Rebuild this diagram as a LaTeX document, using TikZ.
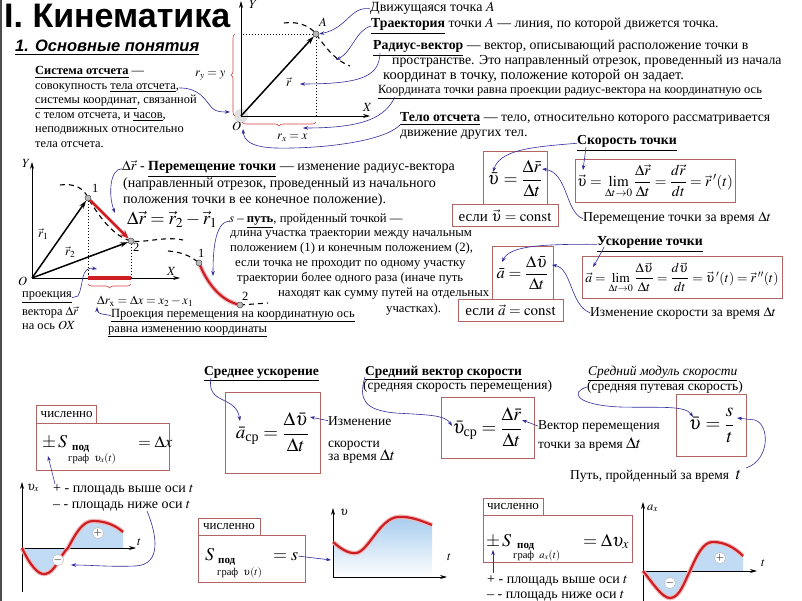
\documentclass[tikz,border=0pt]{standalone}
\usepackage{amsmath}
\usepackage{mathptmx}
\usepackage{fontspec}
\setmainfont{Liberation Serif}
\newfontfamily\hsans{Liberation Sans}
\usetikzlibrary{arrows.meta,decorations.pathreplacing}
\definecolor{boxc}{RGB}{176,100,100}
\definecolor{arrc}{RGB}{50,45,155}
\definecolor{redc}{RGB}{205,30,35}
\definecolor{fillc}{RGB}{150,195,235}
\newcommand{\fsS}{\fontsize{12.4}{14}\selectfont}
\newcommand{\fsM}{\fontsize{13.5}{15}\selectfont}
\newcommand{\fsT}{\fontsize{13.8}{15}\selectfont}
\newcommand{\fsK}{\fontsize{14}{16}\selectfont}
\newcommand{\fsN}{\fontsize{12.7}{14}\selectfont}
\newcommand{\fsP}{\fontsize{12.5}{14}\selectfont}
\newcommand{\fsF}{\fontsize{18}{20}\selectfont}
\begin{document}
\begin{tikzpicture}[x=1pt,y=-1pt,
  txs/.style={inner sep=0pt, anchor=base west, font=\fsS},
  txm/.style={inner sep=0pt, anchor=base west, font=\fsM},
  txt/.style={inner sep=0pt, anchor=base west, font=\fsT},
  txk/.style={inner sep=0pt, anchor=base west, font=\fsK},
  txn/.style={inner sep=0pt, anchor=base west, font=\fsN},
  txp/.style={inner sep=0pt, anchor=base west, font=\fsP},
  bx/.style={draw=boxc, line width=1pt, inner sep=0pt},
  arr/.style={draw=arrc, line width=0.6pt, -{Stealth[length=5pt,width=3.5pt]}},
  axl/.style={draw=black, line width=0.7pt, -{Stealth[length=7pt,width=4pt]}},
  rvec/.style={draw=black, line width=1.5pt, -{Stealth[length=8pt,width=5pt]}},
  traj/.style={draw=black, line width=1.1pt, dash pattern=on 5pt off 4pt},
  dotl/.style={draw=black, line width=0.5pt, dash pattern=on 1.5pt off 1.5pt},
  ptc/.style={circle, fill=gray!55, draw=black!70, line width=0.5pt, inner sep=0pt, minimum size=6pt},
  brc/.style={draw=redc!85, line width=0.6pt, decorate, decoration={brace, amplitude=4pt}},
  rcur/.style={draw=redc, line width=2.2pt},
  glow/.style={draw=redc!30, line width=4.5pt},
  sgn/.style={circle, fill=white, draw=gray!50, line width=0.5pt, inner sep=0pt, minimum size=11pt, font=\fontsize{11}{11}\selectfont\bfseries},
  tabbox/.style={draw=boxc, line width=1pt, inner sep=0pt, font=\fontsize{13}{14}\selectfont},
  mlab/.style={inner sep=0pt, anchor=base west, font=\fontsize{12.5}{14}\selectfont},
  big/.style={inner sep=0pt, anchor=base west, font=\fontsize{18}{18}\selectfont},
  pod/.style={inner sep=0pt, anchor=base west, font=\fontsize{11}{11}\selectfont\bfseries},
  graf/.style={inner sep=0pt, anchor=base west, font=\fontsize{10.5}{11}\selectfont},
]
\useasboundingbox (0,0) rectangle (802,601);
\fill[white] (0,0) rectangle (802,601);
\draw[black!70, line width=1.5pt] (0.75,0) -- (0.75,601);

% ---------- titles
\node[inner sep=0pt, anchor=base west, font=\hsans\bfseries\fontsize{34}{34}\selectfont] (title) at (4,28) {I. Кинематика};
\node[inner sep=0pt, anchor=base west, font=\hsans\bfseries\itshape\fontsize{16.5}{17}\selectfont] (sub) at (15,52) {\underline{1. Основные понятия}};

% ---------- reference frame text
\node[txs] (so1) at (35,75) {\underline{\textbf{Система отсчета}} —};
\node[txs] (so2) at (35,89.5) {совокупность \underline{тела отсчета},};
\node[txs] (so3) at (35,104) {\underline{системы координат}, связанной};
\node[txs] (so4) at (35,118.5) {с телом отсчета, и \underline{часов},};
\node[txs] (so5) at (35,133) {неподвижных относительно};
\node[txs] (so6) at (35,147.5) {тела отсчета.};

% ---------- top axes
\coordinate (O1) at (241,116);
\fill[gray!25] (O1) circle (7);
\draw[axl] (O1) -- (241,1);
\draw[axl] (O1) -- (370,116);
\coordinate (Ac) at (316,34);
\draw[dotl] (Ac) -- (241,34);
\draw[dotl] (Ac) -- (316,116);
\draw[traj] (284,23) .. controls (298,21) and (310,26) .. (Ac) .. controls (324,45) and (334,60) .. (350,66);
\node[ptc] (A) at (Ac) {};
\draw[rvec] (O1) -- (A);
\node[mlab] (Ylab1) at (249,9) {$Y$};
\node[mlab] (Xlab1) at (363,112) {$X$};
\node[mlab] (Olab1) at (232,131) {$O$};
\node[mlab] (Alab) at (319,27) {$A$};
\node[mlab] (rlab) at (286,87) {$\vec r$};
\draw[brc] (235,116) -- (235,34);
\node[mlab] (rylab) at (195,77) {$r_y = y$};
\draw[brc] (316,122) -- (242,122);
\node[mlab] (rxlab) at (277,140) {$r_x = x$};

% ---------- top right text
\node[txk] (dv) at (370,12) {Движущаяся точка $A$};
\node[txt] (tr) at (371,28) {\underline{\textbf{Траектория}} точки $A$ — линия, по которой движется точка.};
\node[txt] (rv1) at (373,50) {\underline{\textbf{Радиус-вектор}} — вектор, описывающий расположение точки в};
\node[txt] (rv2) at (392,65) {пространстве. Это направленный отрезок, проведенный из начала};
\node[txt, font=\fontsize{14.5}{16}\selectfont] (rv3) at (383,80) {координат в точку, положение которой он задает.};
\node[txp] (kt) at (378,94) {\underline{Координата точки равна проекции радиус-вектора на координатную ось}};
\node[txt] (to1) at (400,122) {\underline{\textbf{Тело отсчета}} — тело, относительно которого рассматривается};
\node[txt] (to2) at (400,137) {движение других тел.};

\coordinate (trjpt) at (336,60);
\coordinate (rtip) at (300,84);
\coordinate (rxtip) at (303,128);
\coordinate (Otip) at (243,129);
\coordinate (Oleft) at (230,112);
\draw[arr] (dv.west) .. controls (350,6) and (348,28) .. (A.east);
\draw[arr] (tr.west) .. controls (356,30) and (352,52) .. (trjpt);
\draw[arr] (380,53) .. controls (379,75) and (365,84) .. (rtip);
\draw[arr] (395,97) .. controls (385,117) and (365,128) .. (rxtip);
\draw[arr] (401,124) .. controls (385,142) and (320,149) .. (275,148) .. controls (250,147) and (244,140) .. (Otip);
\draw[arr] (so2.east) .. controls (200,88) and (205,100) .. (212,108) .. controls (216,112) and (222,112) .. (Oleft);

% ---------- middle-left graph
\coordinate (O2) at (32,278);
\draw[axl] (O2) -- (32,162);
\draw[axl] (O2) -- (180,278);
\coordinate (P1c) at (88,198);
\coordinate (P2c) at (131,241);
\draw[dotl] (P1c) -- (88,278);
\draw[dotl] (P2c) -- (131,278);
\draw[traj] (60,185) .. controls (74,183) and (84,188) .. (P1c) .. controls (97,213) and (112,236) .. (P2c) .. controls (146,243) and (165,236) .. (183,240);
\draw[redc, line width=4pt] (88,278) -- (131,278);
\node[ptc] (P1) at (P1c) {};
\node[ptc] (P2) at (P2c) {};
\draw[rvec] (O2) -- (P1);
\draw[rvec] (O2) -- (P2);
\draw[draw=redc, line width=2.5pt, -{Stealth[length=9pt,width=7pt]}] (P1) -- (P2);
\draw[brc] (131,284) -- (88,284);
\node[mlab] (Ylab2) at (22,168) {$Y$};
\node[mlab] (Olab2) at (18,285) {$O$};
\node[mlab] (Xlab2) at (167,276) {$X$};
\node[mlab] (n1) at (92,193) {1};
\node[mlab] (n2) at (133,252) {2};
\node[mlab] (r1lab) at (38,238) {$\vec r_1$};
\node[mlab] (r2lab) at (65,256) {$\vec r_2$};

\draw[traj] (168,251) .. controls (180,252) and (190,255) .. (199,263);
\draw[traj] (240,305) -- (268,303);
\draw[glow] (199,263) .. controls (206,280) and (218,300) .. (240,305);
\draw[rcur] (199,263) .. controls (206,280) and (218,300) .. (240,305);
\node[ptc] (Q1) at (199,263) {};
\node[ptc] (Q2) at (240,305) {};
\node[mlab] (m1) at (198,258) {1};
\node[mlab] (m2) at (242,300) {2};

% ---------- middle text
\node[txk] (dr1) at (122,171) {$\Delta\vec r$ - \underline{\textbf{Перемещение точки}} — изменение радиус-вектора};
\node[txk] (dr2) at (123,188) {(направленный отрезок, проведенный из начального};
\node[txk] (dr3) at (123,204) {положения точки в ее конечное положение).};
\node[inner sep=0pt, anchor=base west, font=\fontsize{18.5}{19}\selectfont] (dr4) at (127,225) {$\Delta\vec r = \vec r_2 - \vec r_1$};
\node[txn] (s1) at (229,223) {$s$ – \underline{\textbf{путь}}, пройденный точкой —};
\node[txn] (s2) at (230,237) {длина участка траектории между начальным};
\node[txn] (s3) at (230,252) {положением (1) и конечным положением (2),};
\node[txn] (s4) at (235,267) {если точка не проходит по одному участку};
\node[txn] (s5) at (237,282) {траектории более одного раза (иначе путь};
\node[txn] (s6) at (278,297) {находят как сумму путей на отдельных};
\node[txn] (s7) at (386,312) {участках).};

\node[txs] (pr1) at (22,298) {\underline{проекция}};
\node[txs] (pr2) at (22,315) {вектора $\Delta\vec r$};
\node[txs] (pr3) at (22,329) {на ось $OX$};
\node[txp] (drx) at (97,305) {$\Delta r_{\mathrm x} = \Delta x = x_2 - x_1$};
\node[txp] (pp1) at (111,317) {\underline{Проекция перемещения на координатную ось}};
\node[txp] (pp2) at (108,332) {\underline{равна изменению координаты}};

\coordinate (drtip) at (115,213);
\coordinate (stip) at (213,276);
\coordinate (prtip) at (97,269);
\coordinate (drxtip) at (97,307);
\draw[arr] (dr1.west) .. controls (110,168) and (108,195) .. (drtip);
\draw[arr] (s1.west) .. controls (214,222) and (213,255) .. (stip);
\draw[arr] (pr1.east) -- (78,296) .. controls (84,285) and (80,266) .. (prtip);
\draw[arr] (pp1.west) -- (102,314) .. controls (98,313) and (97,311) .. (drxtip);

% ---------- right: velocity
\node[bx, minimum width=64pt, minimum height=53pt, font=\fsF] (bA) at (515,178.5) {$\bar\upsilon = \dfrac{\Delta\bar r}{\Delta t}$};
\node[bx, minimum width=106pt, minimum height=22pt, font=\fontsize{15}{15}\selectfont] (bA2) at (505,216) {если $\vec\upsilon = \mathrm{const}$};
\node[bx, minimum width=160pt, minimum height=43pt, font=\fontsize{15}{17}\selectfont] (bB) at (655,181.5) {$\vec\upsilon = \lim\limits_{\Delta t\to 0}\dfrac{\Delta\vec r}{\Delta t} = \dfrac{d\vec r}{dt} = \vec r\,'(t)$};
\node[txt] (sk) at (577,145) {\underline{\textbf{Скорость точки}}};
\node[txt] (pm) at (583,222) {Перемещение точки за время $\Delta t$};
\coordinate (tA1) at (493,172);
\coordinate (tA2) at (542,169);
\coordinate (tB1) at (583,170);
\draw[arr] (sk.west) .. controls (530,147) and (500,150) .. (tA1);
\draw[arr] (586,147) .. controls (585,155) and (584,162) .. (tB1);
\draw[arr] (pm.west) .. controls (565,212) and (568,172) .. (tA2);

% ---------- right: acceleration
\node[bx, minimum width=61pt, minimum height=52pt, font=\fontsize{16.5}{19}\selectfont] (bC) at (522.5,273) {$\bar a = \dfrac{\Delta\bar\upsilon}{\Delta t}$};
\node[bx, minimum width=105pt, minimum height=22pt, font=\fontsize{15}{15}\selectfont] (bC2) at (510.5,310) {если $\vec a = \mathrm{const}$};
\node[bx, minimum width=200pt, minimum height=41pt, font=\fontsize{13.5}{16}\selectfont] (bD) at (682,277.5) {$\vec a = \lim\limits_{\Delta t\to 0}\dfrac{\Delta\vec\upsilon}{\Delta t} = \dfrac{d\vec\upsilon}{dt} = \vec\upsilon\,'(t) = \vec r\,''(t)$};
\node[txt] (usk) at (597,246) {\underline{\textbf{Ускорение точки}}};
\node[txm] (iz) at (590,316) {Изменение скорости за время $\Delta t$};
\coordinate (tC1) at (502,262);
\coordinate (tC2) at (552,265);
\coordinate (tD1) at (593,267);
\draw[arr] (usk.west) .. controls (540,244) and (510,246) .. (tC1);
\draw[arr] (604,247) .. controls (600,255) and (596,262) .. (tD1);
\draw[arr] (iz.west) .. controls (570,305) and (572,268) .. (tC2);

% ---------- average acceleration
\node[txm] (sru) at (204,375) {\underline{\textbf{Среднее ускорение}}};
\node[bx, minimum width=95pt, minimum height=81pt, font=\fontsize{19}{21}\selectfont] (bE) at (272.5,432.5) {$\bar a_{\text{ср}} = \dfrac{\Delta\bar\upsilon}{\Delta t}$};
\node[txm] (izm1) at (328,425) {Изменение};
\node[txm] (izm2) at (328,447) {скорости};
\node[txm] (izm3) at (328,460) {за время {\fontsize{16}{16}\selectfont$\Delta t$}};
\coordinate (tE1) at (240,421);
\coordinate (tE2) at (310,417);
\draw[arr] (211,378) .. controls (206,405) and (236,395) .. (tE1);
\draw[arr] (izm1.west) -- (tE2);

% ---------- average velocity vector
\node[txm] (svs) at (365,375) {\underline{\textbf{Средний вектор скорости}}};
\node[txm] (svs2) at (363,389) {(средняя скорость перемещения)};
\node[bx, minimum width=93pt, minimum height=61pt, font=\fontsize{19}{21}\selectfont] (bF) at (487.5,427.5) {$\bar\upsilon_{\text{ср}} = \dfrac{\Delta\bar r}{\Delta t}$};
\node[txm] (vp1) at (538,429) {Вектор перемещения};
\node[txm] (vp2) at (538,448) {точки за время {\fontsize{16}{16}\selectfont$\Delta t$}};
\coordinate (tF1) at (452,426);
\coordinate (tF2) at (522,420);
\draw[arr] (365,377) .. controls (358,400) and (365,410) .. (395,413) .. controls (430,415) and (445,415) .. (tF1);
\draw[arr] (vp1.west) -- (tF2);

% ---------- average speed
\node[txm] (sms) at (588,375) {\underline{\textit{Средний модуль скорости}}};
\node[txm] (sms2) at (587,390) {(средняя путевая скорость)};
\node[bx, minimum width=70pt, minimum height=62pt, font=\fontsize{19}{21}\selectfont] (bG) at (711.7,425.8) {$\bar\upsilon = \dfrac{s}{t}$};
\node[txm] (pt1) at (570,479) {Путь, пройденный за время \ {\fontsize{17}{17}\selectfont$t$}};
\coordinate (tG1) at (693,417);
\coordinate (tG2) at (737,418);
\draw[arr] (587,387) .. controls (570,392) and (575,405) .. (620,407) .. controls (660,408) and (685,405) .. (tG1);
\draw[arr] (746,468) .. controls (770,460) and (770,425) .. (755,420) -- (tG2);

% ---------- box 1 (v_x graph)
\node[tabbox, minimum width=60pt, minimum height=18pt] (tab1) at (66.7,414) {численно};
\node[bx, minimum width=133pt, minimum height=47pt] (b1) at (103.3,446.5) {};
\node[big] (pm1) at (42,447) {$\pm\, S$};
\node[pod] (pod1) at (72,450) {под};
\node[graf] (gr1) at (68,461) {граф \ $\upsilon_x(t)$};
\node[big, font=\fontsize{16.5}{17}\selectfont] (eq1) at (138,447) {$=\Delta x$};
\node[txk] (pl1) at (53,492) {+ - площадь выше оси $t$};
\node[txk] (mi1) at (53,508) {– - площадь ниже оси $t$};
\draw[arr] (55,484) -- (48,456);

\fill[fillc!60] (22,548) .. controls (30,565) and (38,575) .. (45,574) .. controls (55,573) and (60,555) .. (68,548) -- cycle;
\fill[fillc!60] (68,548) .. controls (75,535) and (82,521) .. (93,521) .. controls (105,521) and (115,525) .. (123,532) -- (123,548) -- cycle;
\draw[axl] (22,592) -- (22,482);
\draw[axl] (22,548) -- (136,548);
\draw[glow] (22,548) .. controls (30,565) and (38,575) .. (45,574) .. controls (55,573) and (60,555) .. (68,548) .. controls (75,535) and (82,521) .. (93,521) .. controls (105,521) and (115,525) .. (123,532);
\draw[rcur] (22,548) .. controls (30,565) and (38,575) .. (45,574) .. controls (55,573) and (60,555) .. (68,548) .. controls (75,535) and (82,521) .. (93,521) .. controls (105,521) and (115,525) .. (123,532);
\node[sgn] (sg1) at (58,560) {$-$};
\node[sgn] (sg2) at (98,533) {$+$};
\node[mlab] (vxlab) at (27,490) {$\upsilon_x$};
\node[mlab] (t1lab) at (137,545) {$t$};
\coordinate (tm1) at (71,565);
\draw[arr] (147,511) .. controls (157,535) and (162,565) .. (135,566) .. controls (110,567) and (90,565) .. (tm1);

% ---------- box 2 (v graph)
\node[tabbox, minimum width=62pt, minimum height=17pt] (tab2) at (229,526.5) {численно};
\node[bx, minimum width=107pt, minimum height=47pt] (b2) at (251.5,558.5) {};
\node[big] (S2) at (205,560) {$S$};
\node[pod] (pod2) at (218,563) {под};
\node[graf] (gr2) at (217,575) {граф \ $\upsilon(t)$};
\node[big] (eq2) at (273,560) {$= s$};
\shade[top color=fillc!85, bottom color=white] (333,542) .. controls (340,548) and (348,554) .. (356,553) .. controls (368,552) and (380,518) .. (398,517) .. controls (410,516) and (422,521) .. (432,525) -- (432,577) -- (333,577) -- cycle;
\draw[axl] (333,577) -- (333,508);
\draw[axl] (333,577) -- (447,577);
\draw[glow] (333,542) .. controls (340,548) and (348,554) .. (356,553) .. controls (368,552) and (380,518) .. (398,517) .. controls (410,516) and (422,521) .. (432,525);
\draw[rcur] (333,542) .. controls (340,548) and (348,554) .. (356,553) .. controls (368,552) and (380,518) .. (398,517) .. controls (410,516) and (422,521) .. (432,525);
\node[mlab] (vlab) at (340,515) {$\upsilon$};
\node[mlab] (t2lab) at (447,560) {$t$};
\coordinate (tv2) at (331,560);
\draw[arr] (eq2.east) -- (tv2);

% ---------- box 3 (a_x graph)
\node[tabbox, minimum width=60pt, minimum height=17pt] (tab3) at (513,506.5) {численно};
\node[bx, minimum width=149pt, minimum height=47pt] (b3) at (557.5,538.5) {};
\node[big] (pm3) at (486,546) {$\pm\, S$};
\node[pod] (pod3) at (517,548) {под};
\node[graf] (gr3) at (513,558) {граф \ $a_x(t)$};
\node[big] (eq3) at (583,546) {$=\Delta\upsilon_x$};
\node[txk] (pl3) at (487,583) {+ - площадь выше оси $t$};
\node[txk] (mi3) at (487,598) {– - площадь ниже оси $t$};
\draw[arr] (493,573) -- (493,550);

\fill[fillc!60] (643,571) .. controls (652,582) and (662,598) .. (670,598) .. controls (680,598) and (685,580) .. (690,571) -- cycle;
\fill[fillc!60] (690,571) .. controls (697,555) and (703,542) .. (713,542) .. controls (725,542) and (735,548) .. (743,556) -- (743,571) -- cycle;
\draw[axl] (643,601) -- (643,502);
\draw[axl] (643,571) -- (757,571);
\draw[glow] (643,571) .. controls (652,582) and (662,598) .. (670,598) .. controls (680,598) and (685,580) .. (690,571) .. controls (697,555) and (703,542) .. (713,542) .. controls (725,542) and (735,548) .. (743,556);
\draw[rcur] (643,571) .. controls (652,582) and (662,598) .. (670,598) .. controls (680,598) and (685,580) .. (690,571) .. controls (697,555) and (703,542) .. (713,542) .. controls (725,542) and (735,548) .. (743,556);
\node[sgn] (sg3) at (670,583) {$-$};
\node[sgn] (sg4) at (720,558) {$+$};
\node[mlab] (axlab) at (647,510) {$a_x$};
\node[mlab] (t3lab) at (761,566) {$t$};
\end{tikzpicture}
\end{document}
